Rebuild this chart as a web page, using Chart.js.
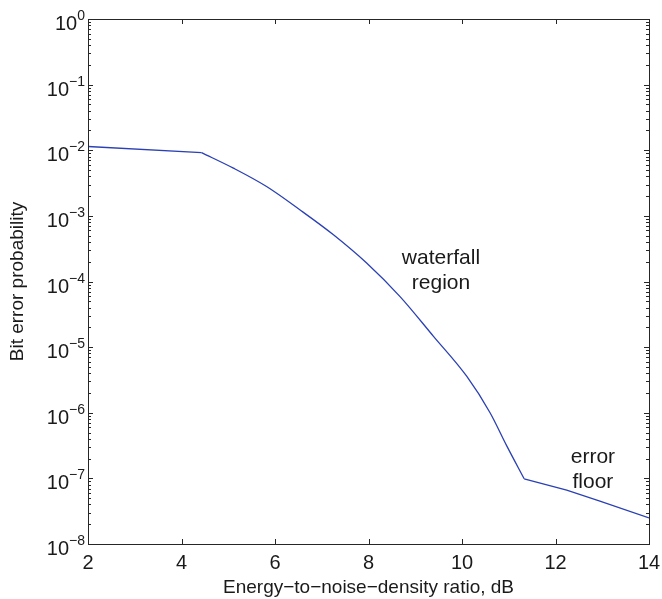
<!DOCTYPE html>
<html>
<head>
<meta charset="utf-8">
<script src="https://cdn.jsdelivr.net/npm/chart.js@4"></script>
<style>
  body { margin: 0; background: #fff; }
  #wrap { width: 662px; height: 599px; }
</style>
</head>
<body>
<div id="wrap"><canvas id="berChart" width="662" height="599"></canvas></div>
<script>
// Eb/N0 (dB) and bit error probability
const ebno = [2, 4.43, 5.11, 5.82, 6.53, 7.25, 7.96, 8.67, 9.39, 10.10, 10.60, 10.96, 11.33, 12.24, 12.95, 14];
const ber = [1.14e-2, 9.2e-3, 5.34e-3, 2.8e-3, 1.24e-3, 5.15e-4, 1.91e-4, 5.93e-5, 1.46e-5, 3.6e-6, 1.0e-6, 3.1e-7, 9.86e-8, 6.6e-8, 4.5e-8, 2.5e-8];
// index where the waterfall starts and where the error floor starts
const waterfallStart = 1;
const floorStart = 12;

const xTicks = [2, 4, 6, 8, 10, 12, 14];
const yExps = [0, -1, -2, -3, -4, -5, -6, -7, -8];

const notes = [
  { x: 9.55, y: Math.pow(10, -3.83), lines: ["waterfall", "region"] },
  { x: 12.8, y: Math.pow(10, -6.87), lines: ["error", "floor"] }
];

const FONT = "'Liberation Sans', Arial, Helvetica, sans-serif";
const AXIS = "#262626";
const LINE = "#2a40b4";

const pts = (from, to) => ebno.slice(from, to).map((x, i) => ({ x, y: ber[from + i] }));

const frame = {
  id: "frame",
  afterDraw(chart) {
    const ctx = chart.ctx;
    const a = chart.chartArea;
    const xs = chart.scales.x, ys = chart.scales.y;
    ctx.save();
    ctx.strokeStyle = AXIS;
    ctx.lineWidth = 1;
    ctx.strokeRect(Math.round(a.left) + 0.5, Math.round(a.top) + 0.5,
      Math.round(a.right - a.left), Math.round(a.bottom - a.top));

    ctx.beginPath();
    xTicks.forEach(v => {
      const px = Math.round(xs.getPixelForValue(v)) + 0.5;
      ctx.moveTo(px, a.bottom); ctx.lineTo(px, a.bottom - 5);
      ctx.moveTo(px, a.top); ctx.lineTo(px, a.top + 5);
    });
    yExps.forEach(e => {
      for (let m = 1; m <= 9; m++) {
        const v = m * Math.pow(10, e);
        if (v > 1 || (e === 0 && m > 1)) continue;
        const py = Math.round(ys.getPixelForValue(v)) + 0.5;
        const len = m === 1 ? 5 : 3;
        ctx.moveTo(a.left, py); ctx.lineTo(a.left + len, py);
        ctx.moveTo(a.right, py); ctx.lineTo(a.right - len, py);
      }
    });
    ctx.stroke();

    // y tick labels as 10 with superscript exponent
    ctx.fillStyle = "#1a1a1a";
    ctx.textBaseline = "alphabetic";
    yExps.forEach(e => {
      const py = ys.getPixelForValue(Math.pow(10, e));
      const sup = e === 0 ? "0" : "\u2212" + (-e);
      ctx.font = "14px " + FONT;
      const sw = ctx.measureText(sup).width;
      const right = a.left - 3;
      ctx.textAlign = "right";
      ctx.fillText(sup, right, py + 1);
      ctx.font = "20px " + FONT;
      ctx.fillText("10", right - sw, py + 11);
    });

    // annotations
    ctx.font = "21px " + FONT;
    ctx.textAlign = "center";
    ctx.textBaseline = "middle";
    notes.forEach(n => {
      const px = xs.getPixelForValue(n.x);
      const py = ys.getPixelForValue(n.y);
      const lh = 25;
      n.lines.forEach((t, i) => {
        ctx.fillText(t, px, py + (i - (n.lines.length - 1) / 2) * lh);
      });
    });
    ctx.restore();
  }
};

const seg = data => ({ data, borderColor: LINE, borderWidth: 1.3, pointRadius: 0, fill: false });

new Chart(document.getElementById("berChart"), {
  type: "line",
  data: {
    datasets: [
      Object.assign(seg(pts(0, waterfallStart + 1)), { tension: 0 }),
      Object.assign(seg(pts(waterfallStart, floorStart + 1)), { cubicInterpolationMode: "monotone" }),
      Object.assign(seg(pts(floorStart, ebno.length)), { tension: 0 })
    ]
  },
  options: {
    responsive: false,
    animation: false,
    layout: { padding: { top: 19, right: 13, left: 0, bottom: 0 } },
    plugins: { legend: { display: false }, tooltip: { enabled: false } },
    scales: {
      x: {
        type: "linear",
        min: 2,
        max: 14,
        afterFit: s => { s.height = 55; s.paddingLeft = 0; s.paddingRight = 0; },
        afterBuildTicks: s => { s.ticks = xTicks.map(v => ({ value: v })); },
        grid: { display: false, drawTicks: false },
        border: { display: false },
        ticks: { color: "#1a1a1a", padding: 7, font: { size: 20, family: FONT } },
        title: {
          display: true,
          text: "Energy\u2212to\u2212noise\u2212density ratio, dB",
          color: "#1a1a1a",
          font: { size: 19, family: FONT },
          padding: { top: 0, bottom: 0 }
        }
      },
      y: {
        type: "logarithmic",
        min: 1e-8,
        max: 1,
        afterFit: s => { s.width = 88; s.paddingTop = 0; s.paddingBottom = 0; },
        grid: { display: false, drawTicks: false },
        border: { display: false },
        ticks: { display: false },
        title: {
          display: true,
          text: "Bit error probability",
          color: "#1a1a1a",
          font: { size: 19, family: FONT },
          padding: { top: 6, bottom: 0 }
        }
      }
    }
  },
  plugins: [frame]
});
</script>
</body>
</html>
